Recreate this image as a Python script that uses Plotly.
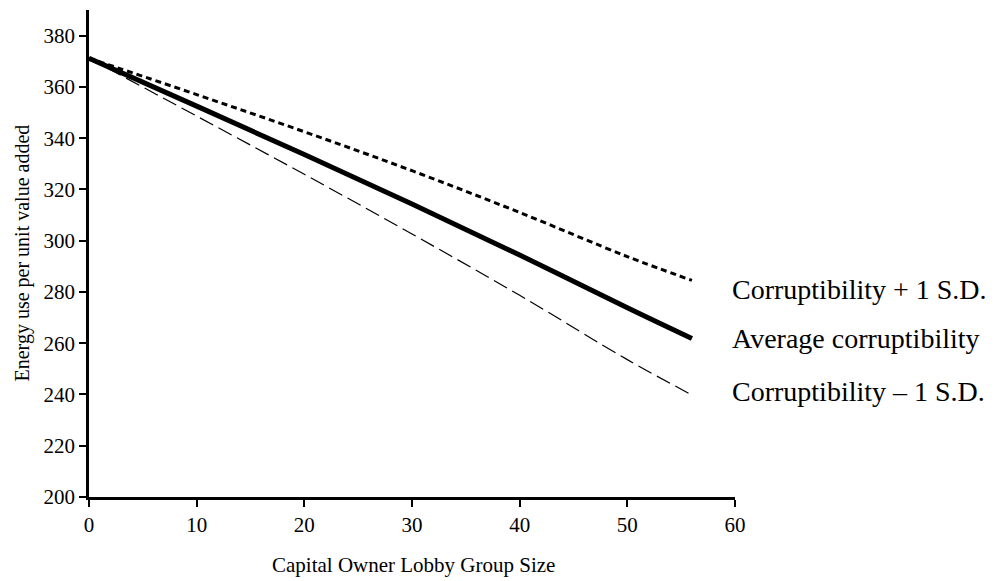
import plotly.graph_objects as go

lobby_size = [0, 10, 20, 30, 40, 50, 56]
corr_plus = [371.2, 357.0, 342.5, 327.3, 311.0, 293.8, 284.5]
corr_avg = [371.2, 352.5, 333.6, 314.3, 294.4, 273.8, 261.8]
corr_minus = [371.2, 348.6, 325.9, 302.6, 278.7, 253.6, 239.8]

label_names = ["Corruptibility + 1 S.D.", "Average corruptibility", "Corruptibility \u2013 1 S.D."]
label_y = [280.8, 262.0, 241.2]

FONT = "Liberation Serif, Times New Roman, serif"

fig = go.Figure()
fig.add_trace(go.Scatter(x=lobby_size, y=corr_plus, mode="lines",
                         line=dict(color="black", width=3, dash="6px,4px", shape="spline"), showlegend=False))
fig.add_trace(go.Scatter(x=lobby_size, y=corr_avg, mode="lines",
                         line=dict(color="black", width=5, shape="spline"), showlegend=False))
fig.add_trace(go.Scatter(x=lobby_size, y=corr_minus, mode="lines",
                         line=dict(color="black", width=1.2, dash="15px,6px", shape="spline"), showlegend=False))

for name, yv in zip(label_names, label_y):
    fig.add_annotation(x=0.993, xref="paper", y=yv, yref="y", text=name,
                       showarrow=False, xanchor="left", yanchor="middle",
                       font=dict(family=FONT, size=28, color="black"))

fig.add_annotation(x=0.503, xref="paper", y=-0.14, yref="paper",
                   text="Capital Owner Lobby Group Size", showarrow=False,
                   xanchor="center", yanchor="middle",
                   font=dict(family=FONT, size=21, color="black"))
fig.add_annotation(x=-0.1037, xref="paper", y=0.5, yref="paper",
                   text="Energy use per unit value added", showarrow=False, textangle=-90,
                   xanchor="center", yanchor="middle",
                   font=dict(family=FONT, size=20, color="black"))

fig.update_layout(
    width=993, height=573,
    margin=dict(l=81, r=266, t=2, b=84),
    paper_bgcolor="white", plot_bgcolor="white",
    font=dict(family=FONT, size=21, color="black"),
)
fig.update_xaxes(range=[0, 60], tickvals=[0, 10, 20, 30, 40, 50, 60], automargin=False,
                 showgrid=False, zeroline=False, showline=True, linecolor="black", linewidth=2.5,
                 ticks="outside", ticklen=7, tickwidth=2, tickcolor="black")
fig.update_yaxes(range=[200, 390], tickvals=[200, 220, 240, 260, 280, 300, 320, 340, 360, 380],
                 automargin=False,
                 showgrid=False, zeroline=False, showline=True, linecolor="black", linewidth=2.5,
                 ticks="outside", ticklen=7, tickwidth=2, tickcolor="black")

fig.write_html("out.html")
